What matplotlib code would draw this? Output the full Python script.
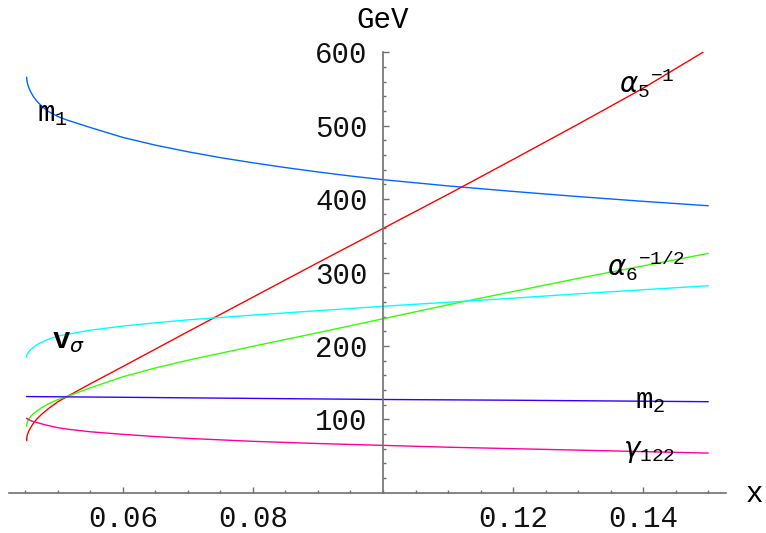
import matplotlib
matplotlib.use("Agg")
import matplotlib.pyplot as plt

plt.rcParams['font.family'] = ['Liberation Mono', 'DejaVu Sans']
plt.rcParams['mathtext.fontset'] = 'custom'
plt.rcParams['mathtext.rm'] = 'Liberation Mono'
plt.rcParams['mathtext.bf'] = 'Liberation Mono:bold'
plt.rcParams['mathtext.it'] = 'DejaVu Sans:italic'

# values
x_m1 = [0.04518, 0.0452, 0.0453, 0.0455, 0.0458, 0.0462, 0.0467, 0.0475, 0.0485, 0.05, 0.0513,
        0.055, 0.06, 0.065, 0.07, 0.075, 0.08, 0.085, 0.09, 0.095, 0.1, 0.11, 0.12, 0.13, 0.14, 0.15]
m1 = [566, 562.5, 557.5, 552, 546, 540, 534, 526.5, 519.5, 512.5, 508,
      497.5, 484, 473.5, 464.5, 456.5, 449.5, 443, 437, 431.5, 426.5, 418, 410.5, 403.5, 397, 391]

x_a5 = [0.04518, 0.0452, 0.0453, 0.0455, 0.0458, 0.0462, 0.0467, 0.0475, 0.0485, 0.05, 0.0514,
        0.055, 0.06, 0.07, 0.08, 0.09, 0.1, 0.11, 0.12, 0.13, 0.14, 0.1492]
a5 = [71.5, 75, 79.5, 84, 89, 94.5, 100, 107, 114.5, 124, 131,
      148.5, 172, 219.5, 266.5, 313.5, 360, 406.5, 454, 502, 551, 600]

x_a6 = [0.04518, 0.0452, 0.0453, 0.0455, 0.0458, 0.0462, 0.0467, 0.0475, 0.0485, 0.05, 0.0514,
        0.055, 0.06, 0.065, 0.07, 0.075, 0.08, 0.09, 0.1, 0.11, 0.12, 0.13, 0.14, 0.15]
a6 = [91, 93.5, 96.5, 100, 104, 107.5, 111, 116, 121, 127, 131,
      143, 158, 170, 180.5, 190, 199.5, 218, 237, 256, 274, 292, 309, 326]

x_vs = [0.04518, 0.0452, 0.0453, 0.0455, 0.0458, 0.0462, 0.0467, 0.0475, 0.0485, 0.05,
        0.055, 0.06, 0.065, 0.07, 0.08, 0.09, 0.1, 0.11, 0.12, 0.13, 0.14, 0.15]
vs = [185, 187.5, 189.5, 192, 195, 198, 201.5, 205, 209, 213.5,
      221.5, 227, 231.5, 235.5, 242, 248, 254, 259.5, 265, 271, 276.5, 282]

x_m2 = [0.04518, 0.06, 0.08, 0.1, 0.12, 0.15]
m2 = [131, 130, 128.5, 127, 126, 124]

x_g = [0.04518, 0.0455, 0.046, 0.047, 0.048, 0.049, 0.05, 0.0515, 0.055, 0.06, 0.065, 0.07,
       0.08, 0.09, 0.1, 0.11, 0.12, 0.13, 0.14, 0.15]
g122 = [101.5, 99.5, 97.5, 95, 92.5, 90.5, 88.5, 86.5, 83, 79.5, 76.5, 74,
        70, 67, 64.5, 62, 60, 58, 56, 54]

xticks_major = [0.06, 0.08, 0.12, 0.14]
xtick_labels = ['0.06', '0.08', '0.12', '0.14']
xticks_minor = [0.045, 0.05, 0.055, 0.065, 0.07, 0.075, 0.085, 0.09, 0.095, 0.1,
                0.105, 0.11, 0.115, 0.125, 0.13, 0.135, 0.145, 0.15]
yticks_major = [100, 200, 300, 400, 500, 600]
yticks_minor = [v for v in range(20, 600, 20) if v % 100 != 0]

fig = plt.figure(figsize=(7.66, 5.33), dpi=100)
ax = fig.add_axes([0, 0, 1, 1])

ax.plot(x_m1, m1, color='#0066ff', lw=1.0)
ax.plot(x_a5, a5, color='#ff0000', lw=1.0)
ax.plot(x_a6, a6, color='#33ff00', lw=1.0)
ax.plot(x_vs, vs, color='#00ffff', lw=1.0)
ax.plot(x_m2, m2, color='#3300ff', lw=1.0)
ax.plot(x_g, g122, color='#ff0099', lw=1.0)

ax.set_xlim(0.041077, 0.158923)
ax.set_ylim(-54.9, 671.3)

for s in ['top', 'right']:
    ax.spines[s].set_visible(False)
ax.spines['left'].set_position(('data', 0.1))
ax.spines['bottom'].set_position(('data', 0))
ax.spines['left'].set_bounds(0, 600)
ax.spines['bottom'].set_bounds(0.0424, 0.1527)
for s in ['left', 'bottom']:
    ax.spines[s].set_color('#707070')
    ax.spines[s].set_linewidth(1.2)

ax.set_xticks(xticks_major)
ax.set_xticklabels(xtick_labels)
ax.set_xticks(xticks_minor, minor=True)
ax.set_yticks(yticks_major)
ax.set_yticklabels([str(v) for v in yticks_major])
ax.set_yticks(yticks_minor, minor=True)
ax.tick_params(which='both', direction='in', color='#707070', width=1.0,
               labelsize=21, labelcolor='#111111')
ax.tick_params(which='major', length=4.5)
ax.tick_params(which='minor', length=2.5)
ax.tick_params(axis='x', pad=9)
ax.tick_params(axis='y', pad=11)
ax.patch.set_alpha(0)

ax.text(0.1, 644, 'GeV', fontsize=21, ha='center', va='center')
ax.text(0.1572, -2, 'x', fontsize=21, ha='center', va='center')

ax.text(0.04677, 506, r'm$_1$', fontsize=21, ha='left', va='baseline')
ax.text(0.04908, 197, r'$\mathbf{v}_\sigma$', fontsize=21, ha='left', va='baseline')
ax.text(0.13637, 544, r'$\alpha_5{}^{-1}$', fontsize=20, ha='left', va='baseline')
ax.text(0.13441, 296, r'$\alpha_6{}^{-1/2}$', fontsize=20, ha='left', va='baseline')
ax.text(0.13877, 115, r'm$_2$', fontsize=21, ha='left', va='baseline')
ax.text(0.13697, 48, r'$\gamma_{122}$', fontsize=20, ha='left', va='baseline')

plt.savefig('out.png', dpi=100)
